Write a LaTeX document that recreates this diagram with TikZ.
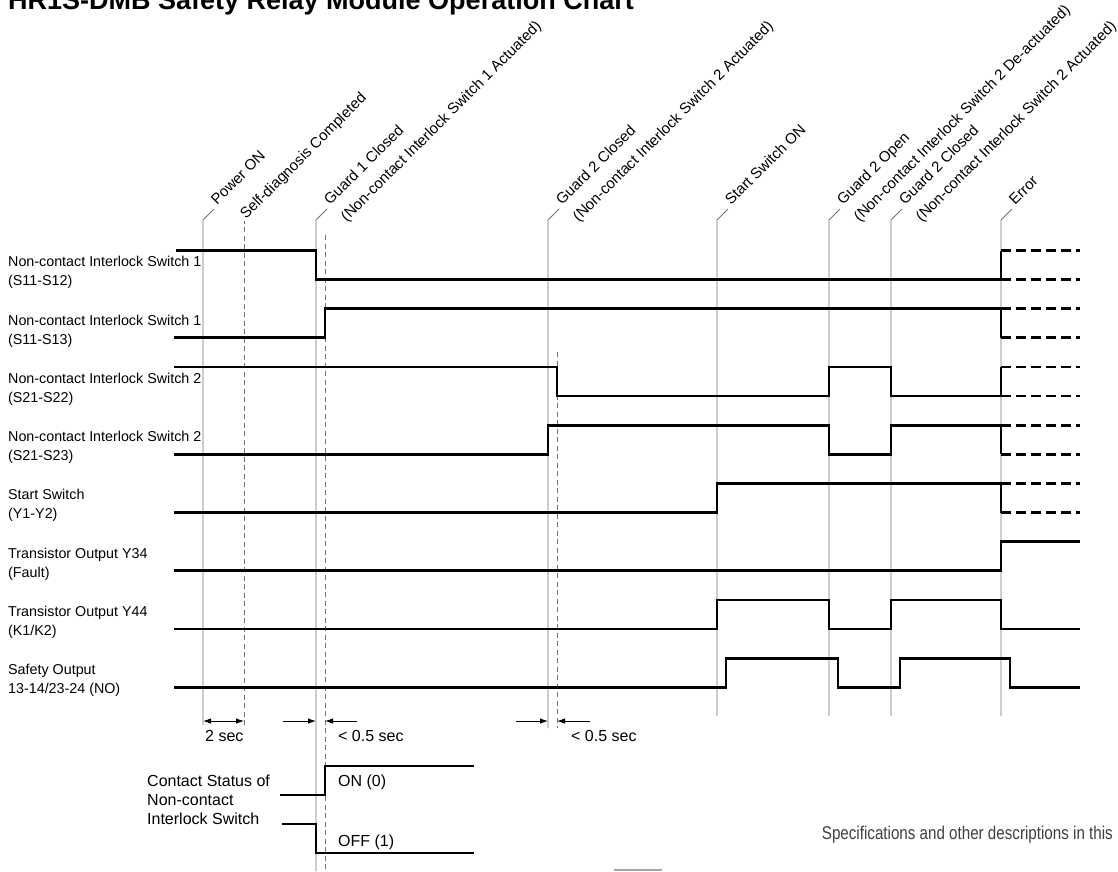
\documentclass[tikz,border=0pt]{standalone}
\usepackage{fontspec}
\setmainfont{Liberation Sans}
\newfontfamily\narrowfont[FakeStretch=0.82]{Liberation Sans}
\usetikzlibrary{arrows.meta,calc}

\newcommand{\stack}[1]{\begin{tabular}[t]{@{}l@{}}#1\end{tabular}}

\begin{document}
\begin{tikzpicture}
[x=1pt,y=-1pt,
every node/.style={inner sep=0pt,anchor=base west,font=\fontsize{14.3}{19}\selectfont},
wave/.style={line width=2.6pt},
tail/.style={line width=2.6pt,dash pattern=on 10pt off 5pt},
evline/.style={black!55,line width=0.9pt},
evdash/.style={black!55,line width=0.9pt,dash pattern=on 5pt off 3.5pt},
evlabel/.style={rotate=45,font=\fontsize{15}{23.5}\selectfont},
bottom/.style={font=\fontsize{16}{19}\selectfont},
dim/.style={line width=0.9pt},
>={Latex[length=8pt,width=5.5pt]}]
\useasboundingbox (0,0) rectangle (1118,871);

% title, cut off at the top edge
\node[font=\fontsize{27}{30}\selectfont\bfseries] (title) at (8,9.5)
  {HR1S-DMB Safety Relay Module Operation Chart};

% events
\foreach \n/\x/\yb/\txt in {
  pow/203/725/{Power ON},
  gA/316/871/{\stack{Guard 1 Closed\\(Non-contact Interlock Switch 1 Actuated)}},
  gB/548/728/{\stack{Guard 2 Closed\\(Non-contact Interlock Switch 2 Actuated)}},
  st/717/716/{Start Switch ON},
  gO/829/716/{\stack{Guard 2 Open\\(Non-contact Interlock Switch 2 De-actuated)}},
  gC/891/716/{\stack{Guard 2 Closed\\(Non-contact Interlock Switch 2 Actuated)}},
  err/1001/716/{Error}}
{
  \coordinate (\n) at (\x,220);
  \coordinate (\n-b) at (\x,\yb);
  \node[evlabel] (\n-t) at ($(\n)+(14,-14)$) {\txt};
  \draw[evline] (\n-b) -- (\n) -- ($(\n-t.base west)+(-3,3)$);
}
\coordinate (sd) at (244,221);
\node[evlabel] (sd-t) at ($(sd)+(2,-1)$) {Self-diagnosis Completed};
\draw[evdash] (244,725) -- (sd);
\draw[evdash] (325,235) -- (325,871);
\draw[evdash] (557,352) -- (557,728);

% signal names
\foreach \i/\txt in {
  1/{Non-contact Interlock Switch 1\\(S11-S12)},
  2/{Non-contact Interlock Switch 1\\(S11-S13)},
  3/{Non-contact Interlock Switch 2\\(S21-S22)},
  4/{Non-contact Interlock Switch 2\\(S21-S23)},
  5/{Start Switch\\(Y1-Y2)},
  6/{Transistor Output Y34\\(Fault)},
  7/{Transistor Output Y44\\(K1/K2)},
  8/{Safety Output\\13-14/23-24 (NO)}}
  \node (row\i) at (8,{266.8+58.25*(\i-1)}) {\stack{\txt}};

% waveforms
\draw[wave] (176,250.5) -| (316,279.5) -| (1001,250.5);
\draw[tail] (1001,250.5) -- (1080,250.5) (1001,279.5) -- (1080,279.5);
\draw[wave] (174,337.75) -| (325,308.75) -| (1001,337.75);
\draw[tail] (1001,308.75) -- (1080,308.75) (1001,337.75) -- (1080,337.75);
\draw[wave] (174,367) -| (557,396) -| (829,367) -| (891,396) -| (1001,367);
\draw[tail] (1001,367) -- (1080,367) (1001,396) -- (1080,396);
\draw[wave] (174,454.25) -| (548,425.25) -| (829,454.25) -| (891,425.25) -| (1001,454.25);
\draw[tail] (1001,425.25) -- (1080,425.25) (1001,454.25) -- (1080,454.25);
\draw[wave] (174,512.5) -| (717,483.5) -| (1001,512.5);
\draw[tail] (1001,483.5) -- (1080,483.5) (1001,512.5) -- (1080,512.5);
\draw[wave] (174,570.75) -| (1001,541.75) -- (1080,541.75);
\draw[wave] (174,629) -| (717,600) -| (829,629) -| (891,600) -| (1001,629) -- (1080,629);
\draw[wave] (174,687.25) -| (726,658.25) -| (838,687.25) -| (900,658.25) -| (1010,687.25) -- (1080,687.25);

% time spans
\draw[dim,<->] (203,721) -- (244,721);
\node[bottom] (t1) at (205,741.7) {2 sec};
\draw[dim,->] (283,721) -- (316,721);
\draw[dim,->] (357,721) -- (325,721);
\node[bottom] (t2) at (338,741.7) {< 0.5 sec};
\draw[dim,->] (516,721) -- (548,721);
\draw[dim,->] (590,721) -- (557,721);
\node[bottom] (t3) at (571,741.7) {< 0.5 sec};

% contact status
\node[bottom] (cs) at (147,786) {\stack{Contact Status of\\Non-contact\\Interlock Switch}};
\draw[wave] (280,795) -| (325,766) -- (474,766);
\draw[wave] (282,824) -| (316,853) -- (474,853);
\node[bottom] (on) at (338,786.7) {ON (0)};
\node[bottom] (off) at (338,846.7) {OFF (1)};

% footer
\node[anchor=base east,font=\narrowfont\fontsize{18.5}{20}\selectfont,text=black!75] (foot)
  at (1113,839.5) {Specifications and other descriptions in this};
\draw[black!35,line width=1.5pt] (614,870) -- (662,870);
\end{tikzpicture}
\end{document}
